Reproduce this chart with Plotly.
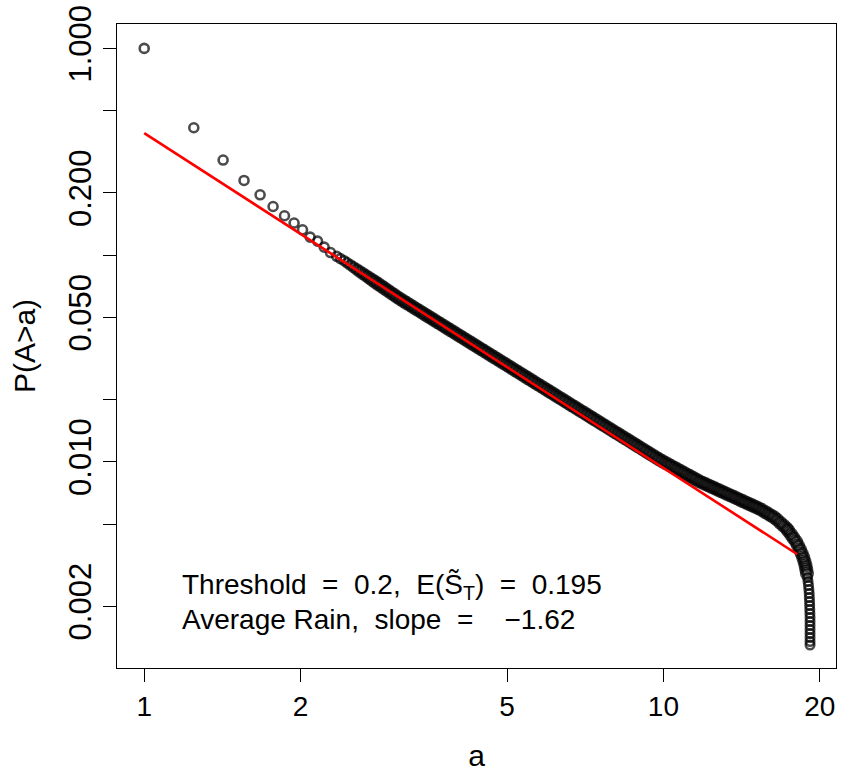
import plotly.graph_objects as go

# Empirical exceedance probabilities P(A>a) read from the reference (log-log)
# sparse head of the distribution
head_a = [1.0, 1.246, 1.419, 1.557, 1.672, 1.771, 1.863, 1.944, 2.018, 2.087,
          2.157, 2.221, 2.285, 2.348, 2.387]
head_p = [1.0, 0.4132, 0.2883, 0.2297, 0.1958, 0.1719, 0.1550, 0.1429, 0.1326, 0.1222,
          0.1169, 0.1093, 0.1029, 0.09867, 0.09617]

# dense body of the distribution
body_a = [
    2.427, 2.460, 2.495, 2.529, 2.565, 2.600, 2.636, 2.673, 2.710, 2.748,
    2.786, 2.825, 2.864, 2.904, 2.944, 2.985, 3.027, 3.069, 3.112, 3.155,
    3.199, 3.243, 3.289, 3.334, 3.381, 3.428, 3.475, 3.524, 3.573, 3.622,
    3.673, 3.724, 3.776, 3.828, 3.882, 3.936, 3.990, 4.046, 4.102, 4.159,
    4.217, 4.276, 4.335, 4.395, 4.457, 4.519, 4.581, 4.645, 4.710, 4.775,
    4.842, 4.909, 4.977, 5.047, 5.117, 5.188, 5.260, 5.333, 5.408, 5.483,
    5.559, 5.636, 5.715, 5.794, 5.875, 5.957, 6.040, 6.124, 6.209, 6.295,
    6.383, 6.471, 6.562, 6.653, 6.745, 6.839, 6.934, 7.031, 7.129, 7.228,
    7.328, 7.430, 7.534, 7.638, 7.745, 7.852, 7.962, 8.072, 8.185, 8.299,
    8.414, 8.531, 8.650, 8.770, 8.892, 9.016, 9.141, 9.268, 9.397, 9.528,
    9.661, 9.795, 9.931, 10.07, 10.21, 10.35, 10.50, 10.64, 10.79, 10.94,
    11.09, 11.25, 11.40, 11.56, 11.72, 11.89, 12.05, 12.22, 12.39, 12.56,
    12.74, 12.91, 13.09, 13.27, 13.46, 13.65, 13.84, 14.03, 14.22, 14.42,
    14.62, 14.83, 15.03, 15.24, 15.45, 15.67, 15.89, 16.11, 16.33, 16.56,
    16.79, 17.02, 17.26,
    17.41, 17.61, 17.80, 18.00, 18.16, 18.32, 18.46, 18.59, 18.69, 18.78,
    18.84, 18.90,
]
body_p = [
    0.09395, 0.09174, 0.08959, 0.08749, 0.08544, 0.08343, 0.08147, 0.07956, 0.07769, 0.07587,
    0.07409, 0.07235, 0.07066, 0.06900, 0.06738, 0.06580, 0.06425, 0.06275, 0.06129, 0.05999,
    0.05871, 0.05746, 0.05624, 0.05505, 0.05388, 0.05273, 0.05161, 0.05051, 0.04944, 0.04839,
    0.04736, 0.04635, 0.04537, 0.04440, 0.04346, 0.04253, 0.04163, 0.04074, 0.03988, 0.03903,
    0.03820, 0.03739, 0.03659, 0.03581, 0.03505, 0.03431, 0.03358, 0.03286, 0.03217, 0.03148,
    0.03081, 0.03016, 0.02952, 0.02889, 0.02827, 0.02767, 0.02708, 0.02651, 0.02594, 0.02539,
    0.02485, 0.02432, 0.02381, 0.02330, 0.02281, 0.02232, 0.02185, 0.02138, 0.02093, 0.02048,
    0.02005, 0.01962, 0.01920, 0.01879, 0.01840, 0.01800, 0.01762, 0.01725, 0.01688, 0.01652,
    0.01617, 0.01583, 0.01549, 0.01516, 0.01484, 0.01452, 0.01421, 0.01391, 0.01362, 0.01333,
    0.01304, 0.01277, 0.01249, 0.01223, 0.01197, 0.01171, 0.01147, 0.01122, 0.01098, 0.01075,
    0.01052, 0.01030, 0.01010, 0.009907, 0.009722, 0.009541, 0.009363, 0.009188, 0.009017, 0.008849,
    0.008684, 0.008522, 0.008363, 0.008207, 0.008054, 0.007922, 0.007798, 0.007675, 0.007555, 0.007437,
    0.007320, 0.007206, 0.007093, 0.006982, 0.006872, 0.006765, 0.006659, 0.006554, 0.006452, 0.006350,
    0.006251, 0.006153, 0.006057, 0.005962, 0.005853, 0.005733, 0.005614, 0.005499, 0.005386, 0.005236,
    0.005073, 0.004915, 0.004763,
    0.004630, 0.004452, 0.004282, 0.004118, 0.003939, 0.003767, 0.003603, 0.003446, 0.003295, 0.003152,
    0.003014, 0.002883,
]

# near-vertical tail at the largest areas
tail_a = [18.95, 18.99, 19.03, 19.06, 19.09, 19.10, 19.12, 19.13,
          19.14, 19.15, 19.16, 19.16, 19.16, 19.16, 19.16, 19.16, 19.16, 19.16]
tail_p = [0.002757, 0.002637, 0.002522, 0.002412, 0.002307, 0.002206, 0.002110, 0.002018,
          0.001930, 0.001846, 0.001765, 0.001688, 0.001615, 0.001544, 0.001477, 0.001413,
          0.001351, 0.001299]

# Fitted power law (slope -1.62), endpoints of the red line
fit_a = [1.0, 18.1]
fit_p = [0.3895, 0.00357]

x_tick_vals = [1, 2, 5, 10, 20]
x_tick_text = ["1", "2", "5", "10", "20"]
y_tick_vals = [1, 0.2, 0.05, 0.01, 0.002]
y_tick_text = ["1.000", "0.200", "0.050", "0.010", "0.002"]
y_minor_vals = [0.5, 0.1, 0.02, 0.005]

NB = "\u00a0"
label_line1 = f"Threshold{NB}{NB}={NB}{NB}0.2,{NB}{NB}E(S\u0303<sub>T</sub>){NB}{NB}={NB}{NB}0.195"
label_line2 = f"Average{NB}Rain,{NB}{NB}slope{NB}{NB}={NB}{NB}{NB}{NB}\u22121.62"

FONT = "Liberation Sans, Arial, Helvetica, sans-serif"

area = head_a + body_a + tail_a
exceed_prob = head_p + body_p + tail_p

# ring styling: thin isolated rings in the sparse parts, heavier where points pile up
ramp = 10
body_sizes = [9.0 + 1.5 * min(i, ramp) / ramp for i in range(len(body_a))]
body_widths = [2.6 + 1.0 * min(i, ramp) / ramp for i in range(len(body_a))]
sizes = [9.0] * len(head_a) + body_sizes + [8.6] * len(tail_a)
widths = [2.6] * len(head_a) + body_widths + [2.5] * len(tail_a)

fig = go.Figure()
fig.add_trace(go.Scatter(
    x=area, y=exceed_prob, mode="markers",
    marker=dict(symbol="circle-open", size=sizes, color="black",
                line=dict(width=widths, color="black")),
    showlegend=False,
))
fig.add_trace(go.Scatter(
    x=fit_a, y=fit_p, mode="lines",
    line=dict(color="#FF0000", width=2.6),
    showlegend=False,
))

fig.update_layout(
    width=842, height=773,
    margin=dict(l=117, r=6, t=24, b=105),
    paper_bgcolor="white", plot_bgcolor="white",
    font=dict(family=FONT, color="black"),
    xaxis=dict(
        type="log", range=[-0.0524, 1.3324],
        tickmode="array", tickvals=x_tick_vals, ticktext=x_tick_text,
        ticks="outside", ticklen=13, tickwidth=1, tickcolor="black",
        tickfont=dict(size=28, family=FONT, color="black"),
        showgrid=False, zeroline=False,
        showline=True, linecolor="black", linewidth=1, mirror=True,
        title=dict(text="a", font=dict(size=30, family=FONT, color="black"), standoff=24),
        automargin=False,
    ),
    yaxis=dict(
        type="log", range=[-2.9976, 0.1181],
        tickmode="array", tickvals=y_tick_vals, ticktext=y_tick_text,
        ticks="outside", ticklen=13, tickwidth=1, tickcolor="black",
        minor=dict(tickmode="array", tickvals=y_minor_vals, ticks="outside",
                   ticklen=13, tickwidth=1, tickcolor="black", showgrid=False),
        tickangle=-90,
        tickfont=dict(size=31, family=FONT, color="black"),
        showgrid=False, zeroline=False,
        showline=True, linecolor="black", linewidth=1, mirror=True,
        title=dict(text="P(A>a)", font=dict(size=30, family=FONT, color="black"), standoff=18),
        automargin=False,
    ),
    annotations=[
        dict(xref="paper", yref="paper", x=0.087, y=0.1258,
             xanchor="left", yanchor="middle", align="left", showarrow=False,
             text=label_line1, font=dict(size=28, family=FONT, color="black")),
        dict(xref="paper", yref="paper", x=0.087, y=0.0755,
             xanchor="left", yanchor="middle", align="left", showarrow=False,
             text=label_line2, font=dict(size=28, family=FONT, color="black")),
    ],
)

fig.write_html("out.html")
